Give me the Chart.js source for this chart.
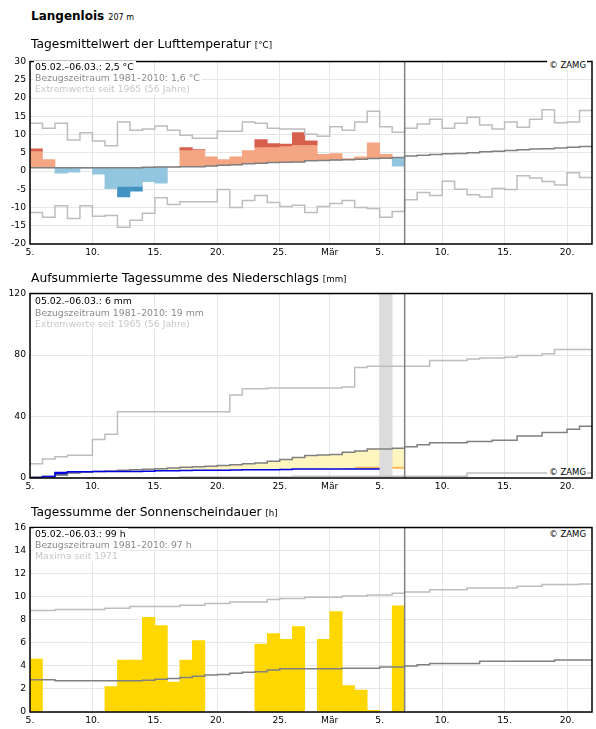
<!DOCTYPE html>
<html lang="de">
<head>
<meta charset="utf-8">
<title>Langenlois</title>
<script src="https://cdn.jsdelivr.net/npm/chart.js@4.4.1/dist/chart.umd.min.js"></script>
<style>
body { margin: 0; background: #fff; }
#page { position: relative; width: 596px; height: 729px; overflow: hidden; font-family: "DejaVu Sans", Verdana, sans-serif; color: #000; }
#page canvas { position: absolute; left: 0; }
.t { position: absolute; white-space: nowrap; }
.station { left: 31px; top: 10.3px; font-size: 12px; line-height: 12px; font-weight: bold; }
.station span { font-size: 8px; font-weight: normal; }
.title { left: 31px; font-size: 12.3px; line-height: 12px; }
.title span { font-size: 8.7px; }
.info { position: absolute; left: 34px; font-size: 9.3px; line-height: 11.2px; }
.info div { background: #fff; width: max-content; padding: 0 2px 0 1px; }
.l1 { color: #000; }
.l2 { color: #8a8a8a; }
.l3 { color: #c8c8c8; }
.copy { right: 9px; font-size: 8.5px; line-height: 10px; background: #fff; padding: 0 1px 0 2px; }
</style>
</head>
<body>
<div id="page">
  <canvas id="tempChart" width="596" height="212" style="top:52px"></canvas>
  <canvas id="rainChart" width="596" height="214" style="top:284px"></canvas>
  <canvas id="sunChart" width="596" height="211" style="top:518px"></canvas>

  <div class="t station">Langenlois <span>207 m</span></div>

  <div class="t title" style="top:37.7px">Tagesmittelwert der Lufttemperatur <span>[°C]</span></div>
  <div class="info" style="top:60.8px">
    <div class="l1">05.02.–06.03.: 2,5 °C</div>
    <div class="l2">Bezugszeitraum 1981–2010: 1,6 °C</div>
    <div class="l3">Extremwerte seit 1965 (56 Jahre)</div>
  </div>
  <div class="t copy" style="top:60.2px">© ZAMG</div>

  <div class="t title" style="top:271.7px">Aufsummierte Tagessumme des Niederschlags <span>[mm]</span></div>
  <div class="info" style="top:295.3px">
    <div class="l1">05.02.–06.03.: 6 mm</div>
    <div class="l2">Bezugszeitraum 1981–2010: 19 mm</div>
    <div class="l3">Extremwerte seit 1965 (56 Jahre)</div>
  </div>
  <div class="t copy" style="top:467.4px">© ZAMG</div>

  <div class="t title" style="top:506.1px">Tagessumme der Sonnenscheindauer <span>[h]</span></div>
  <div class="info" style="top:528px">
    <div class="l1">05.02.–06.03.: 99 h</div>
    <div class="l2">Bezugszeitraum 1981–2010: 97 h</div>
    <div class="l3">Maxima seit 1971</div>
  </div>
  <div class="t copy" style="top:528.8px">© ZAMG</div>
</div>

<script>
// days counted from 5 Feb (index 0) to 21 Mar (index 44)
const dayCount = 45;
const tickDays = [0, 5, 10, 15, 20, 24, 28, 33, 38, 43];
const tickLabels = ['5.', '10.', '15.', '20.', '25.', 'Mär', '5.', '10.', '15.', '20.'];

// Lufttemperatur, Tagesmittel [°C]
const tempDay = [6.1, 3.1, -0.6, -0.3, 0.8, -0.9, -4.7, -7.1, -5.5, -2.9, -3.3, 1.1, 6.4, 5.9, 3.9,
  3.1, 3.9, 5.6, 8.6, 7.5, 7.4, 10.5, 8.3, 4.6, 4.8, 3.4, 3.9, 7.7, 4.6, 1.3];
const tempWarmLimit = [5.3, 5.3, 5.3, 5.3, 5.3, 5.3, 5.4, 5.4, 5.4, 5.4, 5.5, 5.5, 5.6, 5.7, 5.8,
  6.0, 6.1, 6.3, 6.4, 6.4, 6.7, 7.0, 7.0, 7.2, 7.3, 7.4, 7.5, 7.8, 7.9, 8.1];
const tempColdLimit = [-4.6, -4.6, -4.6, -4.6, -4.6, -4.6, -4.6, -4.2, -4.2, -4.2, -4.1, -4.0, -4.0, -3.9, -3.8,
  -3.6, -3.5, -3.2, -3.1, -2.9, -2.8, -2.7, -2.4, -2.3, -2.2, -2.1, -2.0, -1.8, -1.7, -1.5];
const tempNorm = [0.9, 0.9, 0.9, 0.9, 0.9, 0.9, 0.9, 0.9, 0.9, 1.0, 1.1, 1.1, 1.2, 1.2, 1.4,
  1.6, 1.7, 2.0, 2.1, 2.3, 2.4, 2.5, 2.8, 2.9, 3.0, 3.1, 3.2, 3.4, 3.5, 3.7,
  4.1, 4.3, 4.5, 4.7, 4.8, 5.0, 5.3, 5.4, 5.6, 5.8, 6.0, 6.1, 6.3, 6.5, 6.7];
const tempMax = [13.1, 11.7, 13.1, 8.5, 10.5, 8.2, 6.9, 13.4, 11.2, 11.5, 12.3, 11.2, 9.8, 9.0, 9.0,
  10.9, 10.9, 13.4, 13.1, 11.7, 11.5, 11.5, 10.1, 9.5, 12.1, 11.2, 13.4, 16.4, 12.1, 10.6,
  11.7, 12.9, 14.2, 11.7, 13.1, 14.7, 12.6, 11.5, 13.4, 12.0, 14.2, 16.8, 13.2, 13.4, 16.6];
const tempMin = [-11.4, -12.7, -9.5, -13.0, -9.5, -12.4, -12.2, -15.4, -13.5, -11.6, -7.3, -9.2, -8.4, -8.4, -8.4,
  -5.1, -10.0, -8.1, -6.7, -8.6, -9.7, -9.4, -11.4, -9.7, -8.9, -8.1, -10.0, -10.3, -12.7, -11.1,
  -7.9, -5.9, -6.7, -2.8, -5.0, -6.5, -7.1, -4.8, -5.1, -1.3, -1.9, -2.9, -3.8, -0.5, -1.8];

// Niederschlag, aufsummiert [mm]
const rainSum = [0.2, 0.9, 3.6, 4.1, 4.1, 4.2, 4.2, 4.3, 4.3, 4.4, 4.7, 4.7, 4.8, 5.0, 5.0,
  5.1, 5.2, 5.3, 5.3, 5.4, 5.6, 5.8, 5.8, 5.8, 5.8, 5.8, 5.8, 5.8];
const rainNorm = [0.6, 1.0, 1.9, 3.3, 3.8, 4.2, 4.5, 5.0, 5.3, 5.7, 6.0, 6.5, 7.0, 7.3, 7.7,
  8.1, 8.6, 9.2, 9.8, 10.9, 12.0, 13.4, 14.6, 15.0, 15.3, 16.7, 17.6, 18.8, 18.8, 19.3,
  20.3, 21.6, 22.9, 22.9, 22.9, 23.8, 23.8, 24.6, 24.6, 27.4, 27.4, 29.6, 29.6, 31.7, 33.6];
const rainMax = [9.2, 12.4, 13.9, 14.8, 14.8, 25.1, 28.5, 43.1, 43.1, 43.1, 43.1, 43.1, 43.1, 43.1, 43.1,
  43.1, 54.0, 58.1, 58.1, 58.5, 58.5, 58.5, 58.5, 58.5, 58.5, 59.2, 71.8, 72.7, 72.7, 72.7,
  72.7, 72.7, 76.5, 76.5, 76.5, 77.4, 78.0, 78.0, 78.6, 79.7, 79.7, 80.8, 83.6, 83.6, 83.6];
const rainMin = [0, 0, 0, 0, 0, 0, 0, 0, 0, 0, 0, 0, 0.6, 0.6, 0.6,
  0.6, 0.6, 0.6, 0.6, 0.6, 0.6, 1.2, 1.2, 1.2, 1.2, 1.2, 1.2, 1.2, 1.2, 1.2,
  1.2, 1.2, 1.2, 1.2, 1.2, 3.2, 3.2, 3.2, 3.2, 3.2, 3.2, 3.2, 3.2, 3.2, 3.2];
const rainExtraDays = [25, 26, 27, 28, 29];
const rainExtraLow = [6.2, 6.2, 6.2, 6.2, 6.2];
const rainExtraHigh = [6.8, 7.5, 7.5, 7.5, 7.5];
const rainMissingDays = [28];

// Sonnenscheindauer [h]
const sunDay = [4.6, 0, 0, 0, 0, 0, 2.2, 4.5, 4.5, 8.2, 7.5, 2.6, 4.5, 6.2, 0,
  0, 0, 0, 5.9, 6.8, 6.3, 7.4, 0, 6.3, 8.7, 2.3, 1.9, 0.15, 0, 9.2];
const sunNorm = [2.8, 2.8, 2.7, 2.7, 2.7, 2.7, 2.7, 2.7, 2.7, 2.75, 2.85, 2.9, 3.0, 3.1, 3.2,
  3.25, 3.35, 3.45, 3.5, 3.65, 3.75, 3.75, 3.75, 3.75, 3.75, 3.8, 3.8, 3.8, 3.9, 3.9,
  4.0, 4.1, 4.2, 4.2, 4.2, 4.2, 4.4, 4.4, 4.4, 4.4, 4.4, 4.4, 4.5, 4.5, 4.5];
const sunMax = [8.8, 8.8, 8.9, 8.9, 8.9, 8.9, 9.0, 9.0, 9.15, 9.15, 9.15, 9.15, 9.25, 9.25, 9.4,
  9.4, 9.55, 9.55, 9.55, 9.75, 9.85, 9.85, 9.95, 9.95, 9.95, 10.05, 10.05, 10.15, 10.15, 10.3,
  10.4, 10.4, 10.6, 10.6, 10.6, 10.75, 10.75, 10.75, 10.75, 10.9, 10.9, 11.05, 11.05, 11.05, 11.1];

const obsDays = tempDay.length;

Chart.defaults.font.family = '"DejaVu Sans", Verdana, sans-serif';
Chart.defaults.font.size = 9.2;
Chart.defaults.color = '#000';

// frame around the plot and the line marking the last observed day
const framePlugin = {
  id: 'frame',
  afterDatasetsDraw(chart) {
    const ctx = chart.ctx;
    const a = chart.chartArea;
    const xNow = chart.scales.x.getPixelForValue(obsDays);
    ctx.save();
    ctx.strokeStyle = '#808080';
    ctx.lineWidth = 1.5;
    ctx.beginPath();
    ctx.moveTo(xNow, a.top);
    ctx.lineTo(xNow, a.bottom);
    ctx.stroke();
    ctx.strokeStyle = '#000';
    ctx.lineWidth = 1.5;
    ctx.strokeRect(a.left, a.top, a.right - a.left, a.bottom - a.top);
    ctx.restore();
  }
};

// value i holds from day i to day i+1
function stepLine(values, color, order) {
  const pts = values.map((v, i) => ({ x: i, y: v }));
  pts.push({ x: values.length, y: values[values.length - 1] });
  return {
    type: 'line', data: pts, borderColor: color, borderWidth: 1.5,
    stepped: 'before', pointRadius: 0, fill: false, order: order
  };
}

function barSet(data, color, order) {
  return {
    type: 'bar', data: data, backgroundColor: color, borderWidth: 0,
    grouped: false, barPercentage: 1, categoryPercentage: 1, order: order
  };
}

function makeChart(id, yMin, yMax, yStep, xHeight, datasets) {
  return new Chart(document.getElementById(id), {
    type: 'bar',
    data: { datasets: datasets },
    options: {
      responsive: false,
      animation: false,
      events: [],
      layout: { padding: { top: 8, right: 4, left: 0, bottom: 0 } },
      plugins: { legend: { display: false }, tooltip: { enabled: false } },
      scales: {
        x: {
          type: 'linear', min: 0, max: dayCount, offset: false,
          grid: { color: '#e6e6e6', offset: false, drawTicks: false },
          border: { display: false },
          afterBuildTicks: s => { s.ticks = tickDays.map(v => ({ value: v })); },
          afterFit: s => { s.height = xHeight; },
          ticks: { autoSkip: false, maxRotation: 0, minRotation: 0, padding: 3, callback: (v, i) => tickLabels[i] }
        },
        y: {
          min: yMin, max: yMax,
          grid: { color: '#e6e6e6', drawTicks: false },
          border: { display: false },
          afterFit: s => { s.width = 30; },
          ticks: { stepSize: yStep, padding: 4 }
        }
      }
    },
    plugins: [framePlugin]
  });
}

// temperature: anomaly bars between normal and observed value
const warmLight = [], warmDark = [], coldLight = [], coldDark = [];
tempDay.forEach((t, d) => {
  const n = tempNorm[d];
  const x = d + 0.5;
  if (t >= n) {
    warmLight.push({ x: x, y: [n, Math.min(t, tempWarmLimit[d])] });
    if (t > tempWarmLimit[d]) warmDark.push({ x: x, y: [tempWarmLimit[d], t] });
  } else {
    coldLight.push({ x: x, y: [Math.max(t, tempColdLimit[d]), n] });
    if (t < tempColdLimit[d]) coldDark.push({ x: x, y: [t, tempColdLimit[d]] });
  }
});

makeChart('tempChart', -20, 30, 5, 20, [
  stepLine(tempNorm, '#808080', 0),
  stepLine(tempMax, '#bdbdbd', 1),
  stepLine(tempMin, '#bdbdbd', 1),
  barSet(warmLight, '#f4a582', 5),
  barSet(warmDark, '#d6604d', 5),
  barSet(coldLight, '#92c5de', 5),
  barSet(coldDark, '#4393c3', 5)
]);

// precipitation: dry (yellow) / wet (blue) area between sum and normal
const dryFill = [], wetFill = [], extraFill = [], missingFill = [];
for (let d = 0; d < obsDays; d++) {
  const k = rainExtraDays.indexOf(d);
  const top = k >= 0 ? rainExtraHigh[k] : rainSum[d];
  if (top === undefined) continue;
  if (rainNorm[d] > top) dryFill.push({ x: d + 0.5, y: [top, rainNorm[d]] });
  if (k < 0 && rainSum[d] > rainNorm[d]) wetFill.push({ x: d + 0.5, y: [rainNorm[d], rainSum[d]] });
}
rainExtraDays.forEach((d, k) => extraFill.push({ x: d + 0.5, y: [rainExtraLow[k], rainExtraHigh[k]] }));
rainMissingDays.forEach(d => missingFill.push({ x: d + 0.5, y: [0, 120] }));

makeChart('rainChart', 0, 120, 40, 20, [
  stepLine(rainSum, '#0000e6', 0),
  stepLine(rainNorm, '#808080', 1),
  stepLine(rainMax, '#bdbdbd', 1),
  stepLine(rainMin, '#bdbdbd', 1),
  barSet(missingFill, '#dcdcdc', 4),
  barSet(dryFill, '#fff5bf', 6),
  barSet(wetFill, '#0000cc', 6),
  barSet(extraFill, '#ffb74d', 6)
]);

// sunshine: daily bars
const sunBars = [];
sunDay.forEach((v, d) => { if (v > 0) sunBars.push({ x: d + 0.5, y: [0, v] }); });

makeChart('sunChart', 0, 16, 2, 17, [
  stepLine(sunNorm, '#808080', 0),
  stepLine(sunMax, '#bdbdbd', 1),
  barSet(sunBars, '#ffd700', 5)
]);
</script>
</body>
</html>
